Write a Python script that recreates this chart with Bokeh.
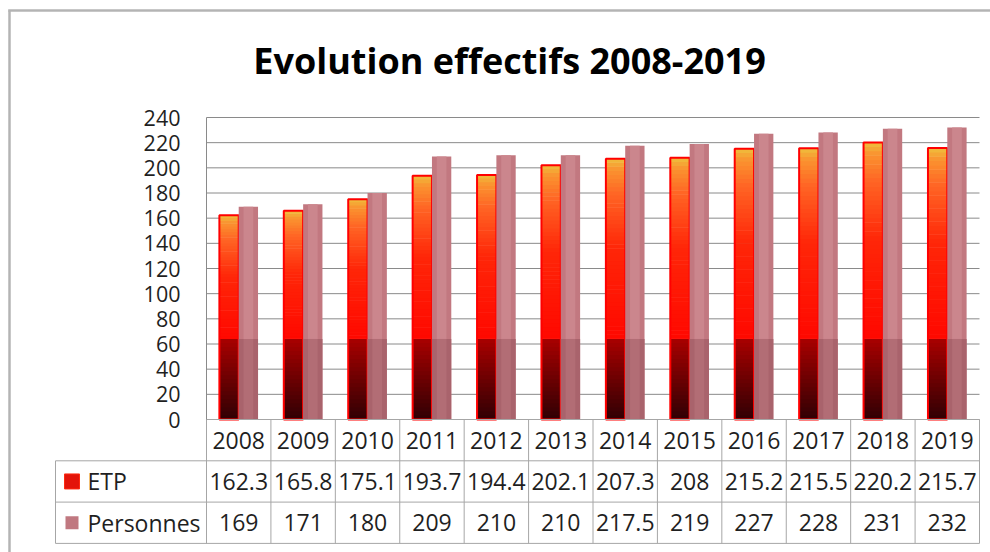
import numpy as np
from bokeh.plotting import figure
from bokeh.models import Range1d, FixedTicker, Label
from bokeh.core.properties import value
from bokeh.embed import file_html
from bokeh.resources import INLINE

# ---------------- data ----------------
years = ["2008", "2009", "2010", "2011", "2012", "2013",
         "2014", "2015", "2016", "2017", "2018", "2019"]
etp = [162.3, 165.8, 175.1, 193.7, 194.4, 202.1, 207.3, 208, 215.2, 215.5, 220.2, 215.7]
personnes = [169, 171, 180, 209, 210, 210, 217.5, 219, 227, 228, 231, 232]
series_names = ["ETP", "Personnes"]
y_ticks = [0, 20, 40, 60, 80, 100, 120, 140, 160, 180, 200, 220, 240]
title_text = "Evolution effectifs 2008-2019"

# ---------------- layout / style constants ----------------
W, H = 990, 552
PLOT_L, PLOT_R = 206, 979          # pixel edges of the category area
Y0_PX, Y240_PX = 419, 117          # pixel rows of value 0 and 240
PX_PER_X = (PLOT_R - PLOT_L) / 12.0
PX_PER_Y = (Y0_PX - Y240_PX) / 240.0
X_START = -PLOT_L / PX_PER_X
X_END = 12 + (W - PLOT_R) / PX_PER_X
Y_END = 240 + Y240_PX / PX_PER_Y
Y_START = -(H - Y0_PX) / PX_PER_Y
ROW_H = 41.3 / PX_PER_Y
LEG_X = (55 - PLOT_L) / PX_PER_X
FRAME_X = (9 - PLOT_L) / PX_PER_X
FRAME_Y = (Y0_PX - 10) / PX_PER_Y
SPLIT = 64.0
BAR_W = 0.3
FONT = "Open Sans"
TXT = "#1f1f1f"
GRID_C = "#8a8a8a"
TABLE_C = "#a6a6a6"


def hex2rgb(h):
    return tuple(int(h[i:i + 2], 16) for i in (1, 3, 5))


def lerp_color(stops, t):
    for (t0, c0), (t1, c1) in zip(stops, stops[1:]):
        if t <= t1:
            f = (t - t0) / (t1 - t0) if t1 > t0 else 0.0
            a, b = hex2rgb(c0), hex2rgb(c1)
            return "#%02x%02x%02x" % tuple(int(round(a[k] + (b[k] - a[k]) * f)) for k in range(3))
    return stops[-1][1]


lower_stops = [(0.0, "#300004"), (1.0, "#a80000")]
upper_stops = [(0.0, "#ff0800"), (0.5, "#ff2608"), (0.8, "#ff6424"),
               (0.94, "#fa9430"), (1.0, "#efbe3c")]

n = len(years)
idx = np.arange(n)

p = figure(width=W, height=H, output_backend="svg", toolbar_location=None,
           x_range=Range1d(X_START, X_END), y_range=Range1d(Y_START, Y_END),
           x_axis_location=None,
           min_border_left=0, min_border_right=0, min_border_bottom=0, min_border_top=0)
p.outline_line_color = None
p.xgrid.visible = False
p.ygrid.visible = False
p.background_fill_color = "white"
p.border_fill_color = "white"

# outer chart frame (top and left edges visible)
p.segment(x0=[FRAME_X - 0.02, FRAME_X], x1=[X_END + 1, FRAME_X],
          y0=[FRAME_Y, FRAME_Y], y1=[FRAME_Y, Y_START - 1],
          line_color="#b4b4b4", line_width=2.5)

# title
p.add_layout(Label(x=(509 - PLOT_L) / PX_PER_X, y=(Y0_PX - 60) / PX_PER_Y, text=title_text,
                   text_align="center", text_baseline="alphabetic",
                   text_font=FONT, text_font_size="36px", text_font_style="bold",
                   text_color="#000000"))

# y axis drawn at x = 0
ax = p.yaxis[0]
ax.fixed_location = 0
ax.bounds = (0, 240)
ax.ticker = FixedTicker(ticks=y_ticks)
ax.major_tick_in = 0
ax.major_tick_out = 0
ax.minor_tick_in = 0
ax.minor_tick_out = 0
ax.axis_line_color = GRID_C
ax.major_label_standoff = 26
ax.major_label_text_font = FONT
ax.major_label_text_font_size = "21.5px"
ax.major_label_text_color = TXT

# gridlines (only over the plot area)
p.segment(x0=[0] * len(y_ticks), x1=[n] * len(y_ticks), y0=y_ticks, y1=y_ticks,
          line_color=GRID_C, line_width=1)

# ---------------- ETP bars (gradient slices) ----------------
xs, bots, tops, cols = [], [], [], []
EPS = 0.45
for i, v in enumerate(etp):
    x = i + 0.35
    lo_top = min(v, SPLIT)
    nl = 20
    for k in range(nl):
        xs.append(x)
        bots.append(lo_top * k / nl)
        tops.append(lo_top * (k + 1) / nl + (EPS if k < nl - 1 else 0))
        cols.append(lerp_color(lower_stops, (k + 0.5) / nl))
    nu = 44
    for k in range(nu):
        xs.append(x)
        bots.append(SPLIT + (v - SPLIT) * k / nu)
        tops.append(SPLIT + (v - SPLIT) * (k + 1) / nu + (EPS if k < nu - 1 else 0))
        cols.append(lerp_color(upper_stops, (k + 0.5) / nu))
p.vbar(x=xs, bottom=bots, top=tops, width=BAR_W, fill_color=cols, line_color=None)
p.vbar(x=idx + 0.35, bottom=0, top=etp, width=BAR_W, fill_color=None,
       line_color="#ff0000", line_width=2)

# ---------------- Personnes bars ----------------
pers_x = idx + 0.65
pers_low = [min(v, SPLIT) for v in personnes]
p.vbar(x=pers_x, bottom=0, top=personnes, width=BAR_W, fill_color="#c27880", line_color=None)
p.vbar(x=pers_x, bottom=0, top=personnes, width=BAR_W * 0.5, fill_color="#cb868d", line_color=None)
p.vbar(x=pers_x, bottom=0, top=pers_low, width=BAR_W, fill_color="#a9636c", line_color=None)
p.vbar(x=pers_x, bottom=0, top=pers_low, width=BAR_W * 0.5, fill_color="#b26d75", line_color=None)

# ---------------- data table ----------------
row_bottom = -3 * ROW_H
p.segment(x0=[0], x1=[n], y0=[0], y1=[0], line_color=TABLE_C, line_width=1)
p.segment(x0=[LEG_X] * 3, x1=[n] * 3, y0=[-ROW_H, -2 * ROW_H, row_bottom],
          y1=[-ROW_H, -2 * ROW_H, row_bottom], line_color=TABLE_C, line_width=1)
p.segment(x0=list(range(n + 1)), x1=list(range(n + 1)), y0=[0] * (n + 1),
          y1=[row_bottom] * (n + 1), line_color=TABLE_C, line_width=1)
p.segment(x0=[LEG_X], x1=[LEG_X], y0=[-ROW_H], y1=[row_bottom], line_color=TABLE_C, line_width=1)

cx = idx + 0.5
fmt = lambda v: ("%g" % v)
text_kw = dict(text_align="center", text_baseline="middle", text_font=value(FONT),
               text_font_size="23px", text_color=TXT)
p.text(x=cx, y=[-ROW_H * 0.5] * n, text=years, **text_kw)
p.text(x=cx, y=[-ROW_H * 1.5] * n, text=[fmt(v) for v in etp], **text_kw)
p.text(x=cx, y=[-ROW_H * 2.5] * n, text=[fmt(v) for v in personnes], **text_kw)

# legend keys + names
key_x = LEG_X + 16.5 / PX_PER_X
p.scatter(x=[key_x], y=[-ROW_H * 1.5], marker="square", size=15,
          fill_color="#e3140a", line_color="#ff2a10", line_width=1)
p.scatter(x=[key_x], y=[-ROW_H * 2.5], marker="square", size=13,
          fill_color="#c07880", line_color=None)
p.text(x=[LEG_X + 32 / PX_PER_X] * 2, y=[-ROW_H * 1.5, -ROW_H * 2.5], text=series_names,
       text_align="left", text_baseline="middle", text_font=value(FONT),
       text_font_size="23px", text_color=TXT)

open("out.html", "w").write(file_html(p, INLINE))
